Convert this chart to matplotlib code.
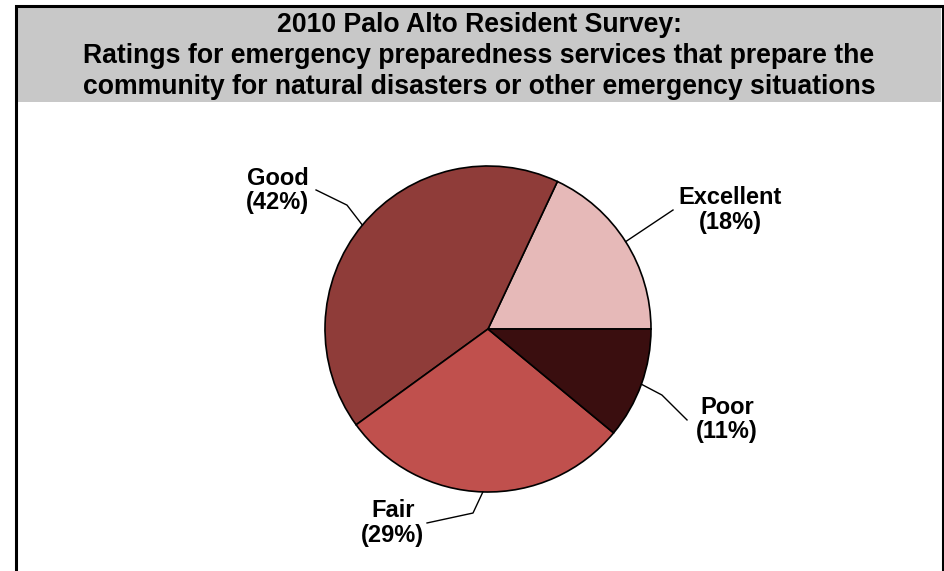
import matplotlib.pyplot as plt
from matplotlib.patches import Rectangle
import numpy as np

# Données du sondage
categories = ['Excellent', 'Good', 'Fair', 'Poor']
percentages = [18, 42, 29, 11]
colors = ['#E6B9B8', '#8F3C39', '#C0504D', '#3A0E0F']

title = ('2010 Palo Alto Resident Survey:\n'
         'Ratings for emergency preparedness services that prepare the\n'
         'community for natural disasters or other emergency situations')

W, H = 944, 571
fig = plt.figure(figsize=(W / 100, H / 100), dpi=100)

def px_rect(x0, y0, x1, y1, **kw):
    # rectangle en pixels (origine en haut à gauche)
    return Rectangle((x0 / W, 1 - y1 / H), (x1 - x0) / W, (y1 - y0) / H,
                     transform=fig.transFigure, **kw)

# Cadre extérieur et bandeau gris du titre
fig.patches.append(px_rect(17, 7, 941, 102, facecolor='#C8C8C8', edgecolor='none'))
fig.patches.append(px_rect(16, 6, 943, 600, facecolor='none', edgecolor='black', lw=2.2))

fig.text(479 / W, 1 - 56 / H, title, ha='center', va='center', fontsize=19.2,
         fontweight='bold', family=['Liberation Sans Narrow', 'Liberation Sans'],
         linespacing=1.25)

# Axe du camembert
cx, cy, r = 488, 329, 163
ax = fig.add_axes([(cx - r) / W, 1 - (cy + r) / H, 2 * r / W, 2 * r / H])
wedges, _ = ax.pie(percentages, colors=colors, startangle=0, counterclock=True,
                   radius=1, wedgeprops=dict(edgecolor='black', linewidth=1.2))
ax.set_xlim(-1, 1)
ax.set_ylim(-1, 1)
ax.set_aspect('equal')
ax.axis('off')

# Position des étiquettes et lignes de rappel (coudes)
label_pos = {'Excellent': (1.485, 0.73), 'Good': (-1.29, 0.85),
             'Fair': (-0.585, -1.19), 'Poor': (1.466, -0.555)}
line_pts = {'Excellent': [(1.135, 0.73)],
            'Good': [(-0.865, 0.76), (-1.055, 0.853)],
            'Fair': [(-0.092, -1.129), (-0.374, -1.19)],
            'Poor': [(1.067, -0.405), (1.221, -0.558)]}

for w, cat, pct in zip(wedges, categories, percentages):
    ang = np.deg2rad((w.theta1 + w.theta2) / 2)
    pts = [(np.cos(ang), np.sin(ang))] + line_pts[cat]
    xs, ys = zip(*pts)
    ax.plot(xs, ys, color='black', lw=1, clip_on=False)
    tx, ty = label_pos[cat]
    ax.text(tx, ty, f'{cat}\n({pct}%)', ha='center', va='center', fontsize=17,
            fontweight='bold', family='Liberation Sans', linespacing=1.1)

plt.savefig('out.png', dpi=100)
